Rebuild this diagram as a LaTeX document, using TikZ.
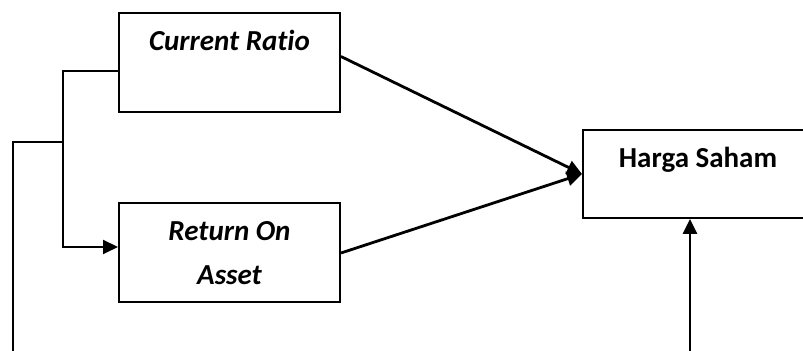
\documentclass[tikz,border=0pt]{standalone}
\usepackage{fontspec}
\setmainfont{Carlito}[Ligatures={NoCommon}]
\usetikzlibrary{calc,positioning,arrows.meta}

\tikzset{
    varBox/.style={draw, line width=1pt, minimum width=110.5pt, minimum height=49.5pt,
        align=center, font=\fontsize{14.5}{22}\selectfont\bfseries\itshape, inner sep=0pt},
    resBox/.style={draw, line width=1pt, minimum width=115pt, minimum height=44pt,
        align=center, font=\fontsize{14.5}{22}\selectfont\bfseries, inner sep=0pt},
    thinLink/.style={line width=1pt},
    link/.style={line width=1.4pt},
    tip/.style={-{Triangle[length=7.5pt,width=7pt]}}
}

\begin{document}
\begin{tikzpicture}[x=0.5pt,y=-0.5pt]
    \useasboundingbox (0,0) rectangle (803,351);

    \node[varBox] (cr) at (229.5,62.5) {Current Ratio\\[-6pt] \strut};
    \node[varBox] (roa) at (229.5,253) {Return On\\Asset};
    \node[resBox] (hs) at (698,174) {Harga Saham\\[-12pt] \strut};

    \coordinate (fork) at (63,142);
    \coordinate (loopL) at (13,360);
    \coordinate (loopR) at (690,360);

    \draw[link,tip] ([yshift=3pt]cr.east) -- (hs.west);
    \draw[link,tip] (roa.east) -- (hs.west);

    \draw[thinLink,tip] ([yshift=-4.25pt]cr.west) -| (fork) |- ([yshift=3pt]roa.west);
    \draw[thinLink] (fork) -| (loopL);
    \draw[link,tip] (loopR) -- (hs.south -| loopR);
\end{tikzpicture}
\end{document}
